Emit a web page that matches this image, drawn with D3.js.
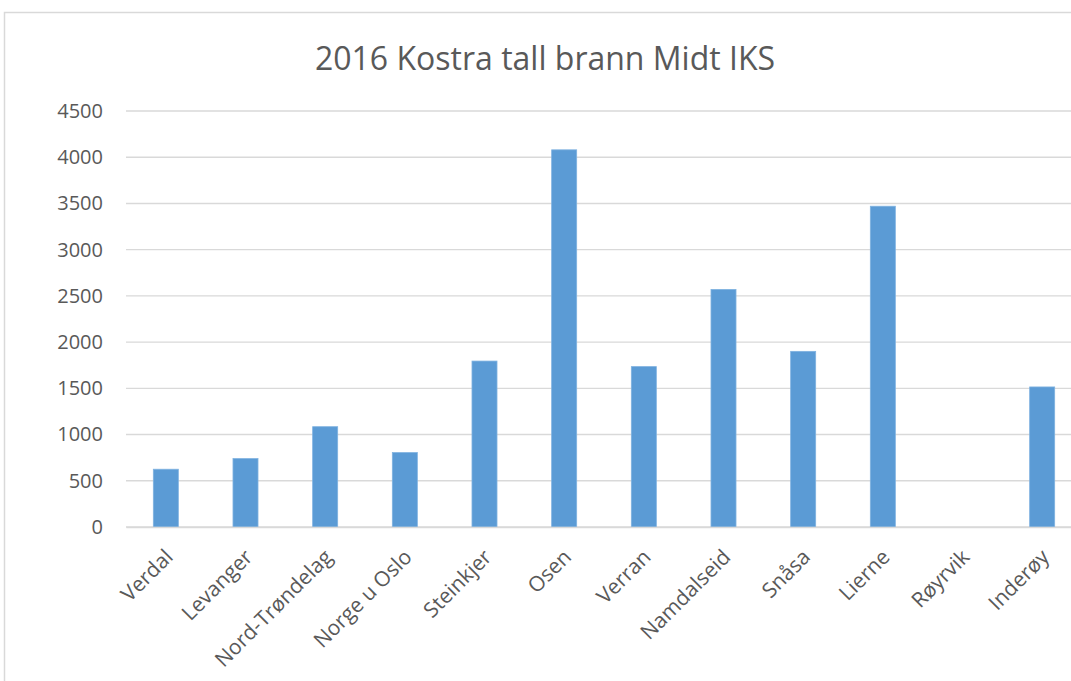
<!DOCTYPE html>
<html>
<head>
<meta charset="utf-8">
<script src="https://cdn.jsdelivr.net/npm/d3@7"></script>
<style>
  body { margin: 0; background: #fff; }
  text { font-family: "Open Sans", sans-serif; fill: #595959; }
</style>
</head>
<body>
<svg width="1071" height="681"></svg>
<script>
var kommuner = ["Verdal", "Levanger", "Nord-Trøndelag", "Norge u Oslo", "Steinkjer", "Osen",
    "Verran", "Namdalseid", "Snåsa", "Lierne", "Røyrvik", "Inderøy"];
var verdier = [625, 740, 1085, 805, 1795, 4080, 1735, 2570, 1900, 3470, 0, 1515];
var yTicks = [0, 500, 1000, 1500, 2000, 2500, 3000, 3500, 4000, 4500];
var tittel = "2016 Kostra tall brann Midt IKS";

var svg = d3.select("svg");
var plotLeft = 126, plotRight = 1082, plotTop = 111, plotBottom = 527;

// ramme rundt diagrammet
svg.append("rect")
    .attr("x", 4.5).attr("y", 12.5)
    .attr("width", 1100).attr("height", 700)
    .attr("fill", "none")
    .attr("stroke", "#d9d9d9")
    .attr("stroke-width", 1.5);

var x = d3.scaleBand()
    .domain(kommuner)
    .range([plotLeft, plotRight])
    .paddingInner(0.686)
    .paddingOuter(0.343);

var y = d3.scaleLinear()
    .domain([0, 4500])
    .range([plotBottom, plotTop]);

//rutenett
svg.append("g")
    .selectAll("line")
    .data(yTicks)
    .join("line")
    .attr("x1", plotLeft).attr("x2", plotRight)
    .attr("y1", d => y(d)).attr("y2", d => y(d))
    .attr("stroke", "#d9d9d9")
    .attr("stroke-width", 1.4);

// y-akse
var yAxis = svg.append("g")
    .attr("transform", `translate(${plotLeft},0)`)
    .call(d3.axisLeft(y).tickValues(yTicks).tickFormat(d => String(d)).tickSize(0).tickPadding(23));
yAxis.select(".domain").remove();
yAxis.selectAll("text")
    .style("font-size", "20px")
    .style("font-family", "'Open Sans', sans-serif")
    .attr("fill", "#595959");

//søyler
svg.append("g")
    .selectAll("rect")
    .data(verdier)
    .join("rect")
    .attr("x", (d, i) => x(kommuner[i]))
    .attr("y", d => y(d))
    .attr("width", x.bandwidth())
    .attr("height", d => y(0) - y(d))
    .attr("fill", "#5b9bd5")
    .attr("stroke", d => d > 0 ? "#7fb2e0" : "none")
    .attr("stroke-width", 0.8);

// x-akse
var xAxis = svg.append("g")
    .attr("transform", `translate(0,${plotBottom})`)
    .call(d3.axisBottom(x).tickSize(0));
xAxis.select(".domain")
    .attr("stroke", "#d9d9d9")
    .attr("stroke-width", 1.4);
xAxis.selectAll("text")
    .style("font-size", "21px")
    .style("font-family", "'Open Sans', sans-serif")
    .attr("fill", "#595959")
    .attr("text-anchor", "end")
    .attr("dy", "0.35em")
    .attr("transform", "translate(1,24) rotate(-45)");

//tittel
svg.append("text")
    .attr("x", 545)
    .attr("y", 70)
    .attr("text-anchor", "middle")
    .style("font-size", "32px")
    .text(tittel);
</script>
</body>
</html>
